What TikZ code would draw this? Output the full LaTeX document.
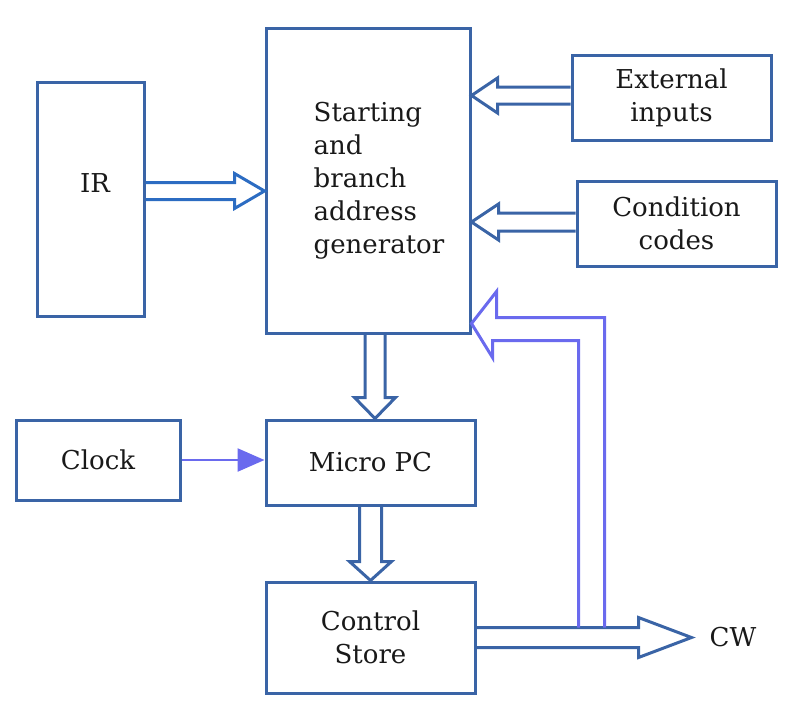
\documentclass[tikz,border=0pt]{standalone}
\usepackage{fontspec}
\setmainfont{DejaVu Serif}
\usetikzlibrary{calc,arrows.meta}

\definecolor{boxblue}{HTML}{3A64A6}
\definecolor{irblue}{HTML}{2C6CC2}
\definecolor{fbviolet}{HTML}{6A6AEE}

% #2 start, #3 tip, #4 shaft half width, #5 head half width, #6 head length
\newcommand\fatarrow[6][]{%
  \draw[fat,#1] ($(#2)!#4!90:(#3)$) -- ($(#3)!#6!(#2)!#4!90:(#3)$)
    -- ($(#3)!#6!(#2)!#5!90:(#3)$) -- (#3)
    -- ($(#3)!#6!(#2)!#5!-90:(#3)$) -- ($(#3)!#6!(#2)!#4!-90:(#3)$)
    -- ($(#2)!#4!-90:(#3)$);}

\begin{document}
\begin{tikzpicture}[x=1pt,y=-1pt,
    every node/.style={font=\fontsize{26}{33}\selectfont,text=black!90},
    blk/.style={draw=boxblue,line width=3pt,inner sep=0pt,align=center},
    fat/.style={draw=boxblue,line width=3pt,line join=miter},
    fb/.style={draw=fbviolet,line width=3pt,line join=miter},
    clk/.style={draw=fbviolet,line width=2.5pt,-{Triangle[length=27pt,width=23pt,fill=fbviolet]}}]
  \useasboundingbox (0,0) rectangle (810,716);

  \node[blk,minimum width=107pt,minimum height=234pt,
        label={[xshift=4.5pt,yshift=16pt]center:IR}] (ir) at (90.5,199) {};
  \node[blk,minimum width=204pt,minimum height=305pt,
        label={[xshift=11pt,align=left]center:Starting\\and\\branch\\address\\generator}] (start) at (368,180.5) {};
  \node[blk,minimum width=199pt,minimum height=85pt] (ext) at (671.5,97.5) {External\\inputs};
  \node[blk,minimum width=199pt,minimum height=85pt] (cond) at (676.5,223.5) {Condition\\codes};
  \node[blk,minimum width=164pt,minimum height=80pt] (clock) at (98,460) {Clock};
  \node[blk,minimum width=209pt,minimum height=85pt] (mpc) at (370.5,462.5) {Micro PC};
  \node[blk,minimum width=209pt,minimum height=111pt] (cs) at (370.5,637.5) {Control\\Store};
  \node[inner sep=3pt] (cw) at (733,637.5) {CW};

  \coordinate (irA) at ($(ir.east)+(0,-8)$);
  \coordinate (irB) at (start.west |- irA);
  \coordinate (extA) at ($(ext.west)+(0,-2)$);
  \coordinate (extB) at (start.east |- extA);
  \coordinate (condA) at ($(cond.west)+(0,-1.5)$);
  \coordinate (condB) at (start.east |- condA);
  \coordinate (dnA) at ($(start.south)+(7,0)$);
  \coordinate (dnB) at (mpc.north -| dnA);
  \coordinate (cwtip) at ($(cw.west)+(-15,0)$);
  \coordinate (fbtip) at ($(start.south east)+(0,-11)$);

  \fatarrow[draw=irblue]{irA}{irB}{8.5pt}{17.5pt}{30pt}
  \fatarrow{extA}{extB}{8.5pt}{17.5pt}{26pt}
  \fatarrow{condA}{condB}{9pt}{18pt}{27pt}
  \fatarrow{dnA}{dnB}{10pt}{20.5pt}{21pt}
  \fatarrow{mpc.south}{cs.north}{11pt}{21pt}{19pt}
  \fatarrow{cs.east}{cwtip}{10pt}{20pt}{53pt}

  \draw[fb] ($(cs.east)+(128,-10)$) |- ($(fbtip)+(25,-6)$) -- ++(0,-26) -- (fbtip)
    -- ++(21,34) -- ++(0,-17) -| ($(cs.east)+(102,-10)$);
  \draw[clk] (clock.east) -- (mpc.west |- clock.east);
\end{tikzpicture}
\end{document}
